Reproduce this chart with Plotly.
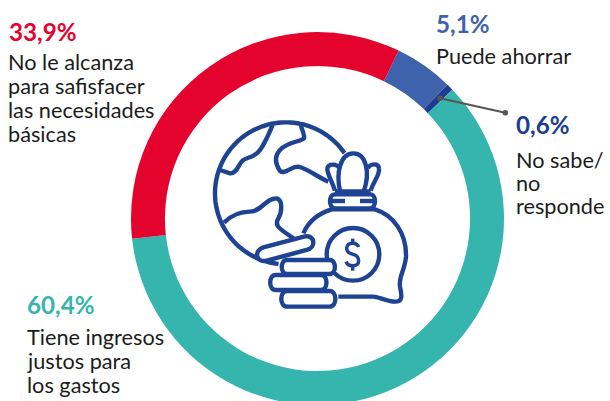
import re
import numpy as np
import plotly.graph_objects as go

categories = ["Puede ahorrar", "No sabe/no responde", "Tiene ingresos justos para los gastos",
              "No le alcanza para safisfacer las necesidades básicas"]
values = [5.1, 0.6, 60.4, 33.9]
colors = ["#3E63AC", "#1D3C8F", "#36B5AE", "#E4032D"]
pct_labels = ["5,1%", "0,6%", "60,4%", "33,9%"]

W, H = 610, 405
INK = "#1F4393"
TEXT = "#1c1c1c"
FONT = "Lato"


def X(x):
    return x / W


def Y(y):
    return 1 - y / H


fig = go.Figure(go.Pie(
    labels=categories, values=values, sort=False, direction="clockwise",
    rotation=25.8, hole=0.818, textinfo="none", showlegend=False, hoverinfo="label+percent",
    marker=dict(colors=colors, line=dict(width=0)),
    domain=dict(x=[X(131), X(504)], y=[Y(405), Y(32)]),
))

ann = []


def text(s, x, base, size, color, bold=False):
    t = f"<b>{s}</b>" if bold else s
    ann.append(dict(text=t, x=X(x - 1.5), y=Y(base + 0.213 * size + 1), xref="paper", yref="paper",
                    xanchor="left", yanchor="bottom", showarrow=False, align="left",
                    borderpad=0, font=dict(family=FONT, size=size, color=color)))


LB = 21.7
PB = 24.2
text(pct_labels[3], 9, 41, PB, colors[3], True)
for s, b in [("No le alcanza", 70), ("para safisfacer", 94), ("las necesidades", 118), ("básicas", 142)]:
    text(s, 8.5, b, LB, TEXT)
text(pct_labels[0], 436, 33, PB, colors[0], True)
text("Puede ahorrar", 436, 64, LB, TEXT)
text(pct_labels[1], 516, 134, PB, colors[1], True)
for s, b in [("No sabe/", 168), ("no", 191), ("responde", 214)]:
    text(s, 516, b, LB, TEXT)
text(pct_labels[2], 27, 314, PB, colors[2], True)
for s, b in [("Tiene ingresos", 345), ("justos para", 369), ("los gastos", 393)]:
    text(s, 27, b, LB, TEXT)

shapes = []


def zpath(d):
    """Icon outline written in crop coordinates (3x, origin 200,100)."""
    toks = re.findall(r"[MLCZ]|-?\d+\.?\d*", d)
    out, isx = [], True
    for t in toks:
        if t in "MLCZ":
            out.append(t)
            isx = True
        else:
            v = float(t) / 3
            out.append(f"{X(200 + v):.5f}" if isx else f"{Y(100 + v):.5f}")
            isx = not isx
    res, i = "", 0
    while i < len(out):
        if out[i] in "MLCZ":
            res += out[i] + " "
            i += 1
        else:
            res += out[i] + "," + out[i + 1] + " "
            i += 2
    return res


def icon(d, fill=None, w=4.4):
    shapes.append(dict(type="path", path=zpath(d), xref="paper", yref="paper",
                       line=dict(color=INK, width=w),
                       fillcolor=fill if fill else "rgba(0,0,0,0)"))


# globe
a = np.radians(np.linspace(-34.5, -264, 90))
gx, gy = 258 + 213 * np.cos(a), 280 + 213 * np.sin(a)
icon("M" + " L".join(f"{p:.1f} {q:.1f}" for p, q in zip(gx, gy)))
icon("M218 75 C205 105 195 130 180 150 C165 172 145 170 130 180 C115 190 112 222 90 220 L60 210")
icon("M303 75 C305 90 315 105 312 115 C300 125 270 125 245 145 C222 165 225 190 240 213 C255 225 270 200 295 200 C320 205 360 235 385 245")
icon("M72 368 C90 350 115 335 150 335 C185 335 195 295 230 295 C250 300 245 340 235 355 C220 380 245 390 285 418")
# bag
icon("M310 400 C325 365 355 340 395 328 L525 328 C580 345 620 400 618 470 C615 510 595 530 600 560 C605 585 610 605 585 605 C560 605 535 590 520 590 L415 590")
icon("M405 283 L510 283 C530 283 530 325 510 325 L405 325 C385 325 385 283 405 283 Z", "white")
icon("M395 303 L435 303")
icon("M480 303 L522 303")
icon("M420 272 C408 220 420 160 460 160 C500 160 510 220 492 272")
icon("M405 274 L512 274")
icon("M405 272 C395 240 380 220 382 205 C385 190 410 190 420 205")
icon("M512 272 C522 240 540 225 537 205 C535 188 510 190 503 205")
shapes.append(dict(type="circle", xref="paper", yref="paper", x0=X(200 + 380 / 3), x1=X(200 + 538 / 3),
                   y0=Y(100 + 384 / 3), y1=Y(100 + 542 / 3), line=dict(color=INK, width=4.4)))
icon("M476 441 C470 425 440 425 440 445 C440 470 476 455 476 482 C476 502 445 502 438 485", None, 3.5)
icon("M458 416 L458 428", None, 3.5)
icon("M458 498 L458 512", None, 3.5)
# coins
icon("M190 442 L312 410 C345 402 350 442 320 450 L200 482 C168 490 160 452 190 442 Z", "white")
for x0, x1, y0, y1 in [(240, 410, 480, 522), (205, 385, 525, 570), (238, 412, 573, 620)]:
    r = (y1 - y0) / 2
    icon(f"M{x0 + r} {y0} L{x1 - r} {y0} C{x1} {y0} {x1} {y1} {x1 - r} {y1} L{x0 + r} {y1} C{x0} {y1} {x0} {y0} {x0 + r} {y0} Z", "white")

# connector for the small slice
shapes.append(dict(type="line", xref="paper", yref="paper", x0=X(440), y0=Y(98.3), x1=X(505.3), y1=Y(112.7),
                   line=dict(color="#555555", width=2)))
for cx, cy in [(440, 98.3), (505.3, 112.7)]:
    shapes.append(dict(type="circle", xref="paper", yref="paper", x0=X(cx - 2.8), x1=X(cx + 2.8),
                       y0=Y(cy - 2.8), y1=Y(cy + 2.8), fillcolor="#555555", line=dict(width=0)))

fig.update_layout(width=W, height=H, margin=dict(l=0, r=0, t=0, b=0), paper_bgcolor="white",
                  plot_bgcolor="white", annotations=ann, shapes=shapes, showlegend=False)
fig.write_html("out.html", config={"displayModeBar": False},
               post_script="document.documentElement.style.overflow='hidden';document.body.style.margin='0';document.body.style.overflow='hidden';")
